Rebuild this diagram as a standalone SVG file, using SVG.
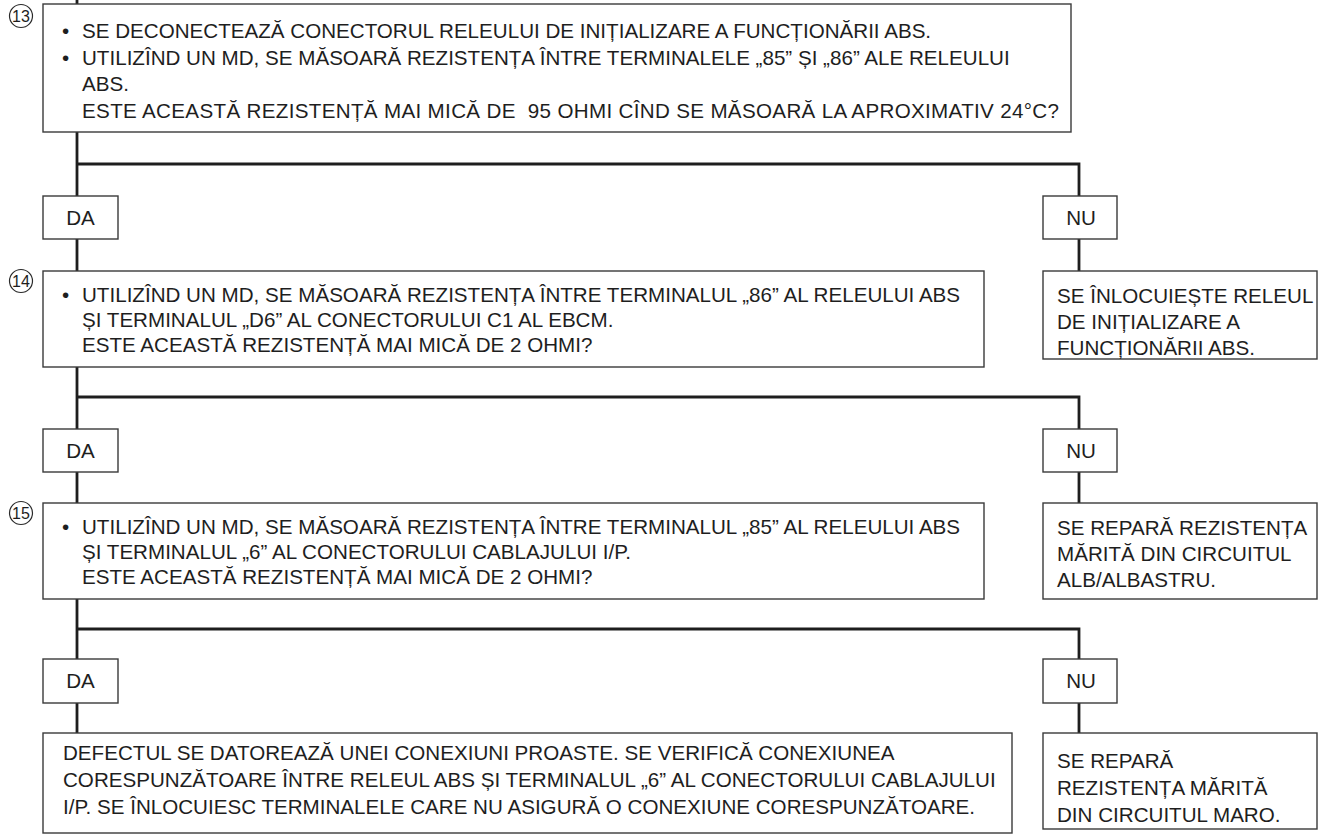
<svg xmlns="http://www.w3.org/2000/svg" width="1329" height="835" viewBox="0 0 1329 835">
  <style>
    .bg { fill: #ffffff; }
    .box { fill: #ffffff; stroke: #3a3a3a; stroke-width: 1.4; }
    .flow { fill: none; stroke: #1e1e1e; stroke-width: 2.8; }
    .step { fill: none; stroke: #2a2a2a; stroke-width: 1.2; }
    text { font-family: "Liberation Sans", Arial, Helvetica, sans-serif; font-size: 20.6px; fill: #1e1e1e; }
    .num { font-size: 16px; text-anchor: middle; }
    .lbl { text-anchor: middle; }
  </style>

  <rect class="bg" x="0" y="0" width="1329" height="835"/>

  <!-- flow lines -->
  <g id="connectors">
    <!-- main YES trunk -->
    <line class="flow" x1="77" y1="0" x2="77" y2="733"/>
    <!-- branch after step 13 -->
    <polyline class="flow" points="77,164 1079,164 1079,271"/>
    <!-- branch after step 14 -->
    <polyline class="flow" points="77,397 1079,397 1079,503"/>
    <!-- branch after step 15 -->
    <polyline class="flow" points="77,629 1079,629 1079,733"/>
  </g>

  <!-- step 13 -->
  <g id="step13">
    <rect class="box" x="43" y="4" width="1028" height="128"/>
    <circle class="step" cx="21" cy="16" r="11.5"/>
    <text class="num" x="21" y="21.7">13</text>
    <text x="62" y="38">•</text>
    <text x="82" y="38">SE DECONECTEAZĂ CONECTORUL RELEULUI DE INIȚIALIZARE A FUNCȚIONĂRII ABS.</text>
    <text x="62" y="64.5">•</text>
    <text x="82" y="64.5">UTILIZÎND UN MD, SE MĂSOARĂ REZISTENȚA ÎNTRE TERMINALELE „85” ȘI „86” ALE RELEULUI</text>
    <text x="82" y="91">ABS.</text>
    <text x="82" y="117.5" xml:space="preserve" textLength="977" lengthAdjust="spacing">ESTE ACEASTĂ REZISTENȚĂ MAI MICĂ DE  95 OHMI CÎND SE MĂSOARĂ LA APROXIMATIV 24°C?</text>
  </g>

  <g id="yes13">
    <rect class="box" x="43" y="196" width="75" height="43"/>
    <text class="lbl" x="80.5" y="225">DA</text>
  </g>
  <g id="no13">
    <rect class="box" x="1043" y="196" width="74" height="43"/>
    <text class="lbl" x="1081" y="225">NU</text>
  </g>

  <!-- step 14 -->
  <g id="step14">
    <rect class="box" x="43" y="271" width="941" height="96"/>
    <circle class="step" cx="21" cy="281" r="11.5"/>
    <text class="num" x="21" y="286.7">14</text>
    <text x="62" y="302">•</text>
    <text x="82" y="302">UTILIZÎND UN MD, SE MĂSOARĂ REZISTENȚA ÎNTRE TERMINALUL „86” AL RELEULUI ABS</text>
    <text x="82" y="327">ȘI TERMINALUL „D6” AL CONECTORULUI C1 AL EBCM.</text>
    <text x="82" y="352">ESTE ACEASTĂ REZISTENȚĂ MAI MICĂ DE 2 OHMI?</text>
  </g>

  <g id="replaceRelay">
    <rect class="box" x="1043" y="271" width="274" height="88"/>
    <text x="1057" y="303">SE ÎNLOCUIEȘTE RELEUL</text>
    <text x="1057" y="329">DE INIȚIALIZARE A</text>
    <text x="1057" y="355">FUNCȚIONĂRII ABS.</text>
  </g>

  <g id="yes14">
    <rect class="box" x="43" y="429" width="75" height="43"/>
    <text class="lbl" x="80.5" y="458">DA</text>
  </g>
  <g id="no14">
    <rect class="box" x="1043" y="429" width="74" height="43"/>
    <text class="lbl" x="1081" y="458">NU</text>
  </g>

  <!-- step 15 -->
  <g id="step15">
    <rect class="box" x="43" y="503" width="941" height="96"/>
    <circle class="step" cx="21" cy="513" r="11.5"/>
    <text class="num" x="21" y="518.7">15</text>
    <text x="62" y="534">•</text>
    <text x="82" y="534">UTILIZÎND UN MD, SE MĂSOARĂ REZISTENȚA ÎNTRE TERMINALUL „85” AL RELEULUI ABS</text>
    <text x="82" y="559">ȘI TERMINALUL „6” AL CONECTORULUI CABLAJULUI I/P.</text>
    <text x="82" y="584">ESTE ACEASTĂ REZISTENȚĂ MAI MICĂ DE 2 OHMI?</text>
  </g>

  <g id="repairWhiteBlue">
    <rect class="box" x="1043" y="503" width="274" height="96"/>
    <text x="1057" y="535">SE REPARĂ REZISTENȚA</text>
    <text x="1057" y="561">MĂRITĂ DIN CIRCUITUL</text>
    <text x="1057" y="587">ALB/ALBASTRU.</text>
  </g>

  <g id="yes15">
    <rect class="box" x="43" y="659" width="75" height="44"/>
    <text class="lbl" x="80.5" y="688">DA</text>
  </g>
  <g id="no15">
    <rect class="box" x="1043" y="659" width="74" height="44"/>
    <text class="lbl" x="1081" y="688">NU</text>
  </g>

  <g id="poorConnection">
    <rect class="box" x="43" y="733" width="969" height="100"/>
    <text x="63" y="760">DEFECTUL SE DATOREAZĂ UNEI CONEXIUNI PROASTE. SE VERIFICĂ CONEXIUNEA</text>
    <text x="63" y="787">CORESPUNZĂTOARE ÎNTRE RELEUL ABS ȘI TERMINALUL „6” AL CONECTORULUI CABLAJULUI</text>
    <text x="63" y="814">I/P. SE ÎNLOCUIESC TERMINALELE CARE NU ASIGURĂ O CONEXIUNE CORESPUNZĂTOARE.</text>
  </g>

  <g id="repairBrown">
    <rect class="box" x="1043" y="733" width="274" height="96"/>
    <text x="1057" y="768">SE REPARĂ</text>
    <text x="1057" y="795">REZISTENȚA MĂRITĂ</text>
    <text x="1057" y="822">DIN CIRCUITUL MARO.</text>
  </g>
</svg>
